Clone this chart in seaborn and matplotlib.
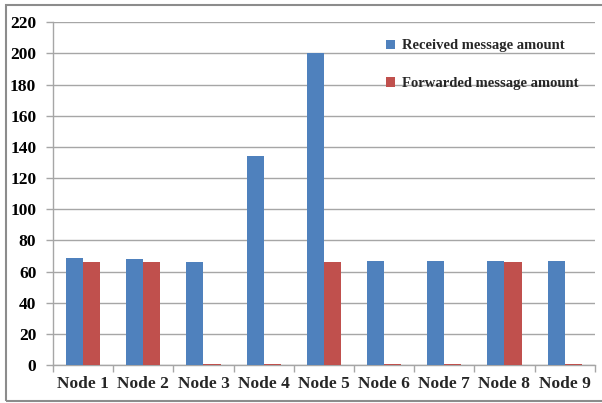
import matplotlib
matplotlib.use("Agg")
import matplotlib.pyplot as plt
from matplotlib.patches import Rectangle
import seaborn as sns
import pandas as pd

nodes = ["Node 1", "Node 2", "Node 3", "Node 4", "Node 5",
         "Node 6", "Node 7", "Node 8", "Node 9"]
received = [69, 68, 66, 134, 200, 67, 67, 67, 67]
forwarded = [66, 66, 1, 1, 66, 1, 1, 66, 1]
series_names = ["Received message amount", "Forwarded message amount"]
yticks = list(range(0, 221, 20))

df = pd.DataFrame({
    "node": nodes * 2,
    "amount": received + forwarded,
    "series": [series_names[0]] * len(nodes) + [series_names[1]] * len(nodes),
})

sns.set_theme(style="white")
plt.rcParams["font.family"] = ["Liberation Serif", "DejaVu Serif"]
plt.rcParams["font.weight"] = "bold"

fig = plt.figure(figsize=(6.02, 4.03), dpi=100)
ax = fig.add_axes([0.088, 0.094, 0.9, 0.851])

sns.barplot(data=df, x="node", y="amount", hue="series", order=nodes,
            hue_order=series_names, palette=["#4F81BD", "#C0504D"],
            width=0.57, saturation=1, linewidth=0, ax=ax, zorder=3)

ax.set_ylim(0, 220)
ax.set_xlim(-0.5, len(nodes) - 0.5)
ax.set_yticks(yticks)
ax.set_yticklabels([str(v) for v in yticks], fontsize=12.5, fontweight="bold")
ax.set_xticklabels(nodes, fontsize=12.5, fontweight="bold")
ax.set_xlabel("")
ax.set_ylabel("")

# horizontal gridlines
ax.grid(axis="y", color="#a6a6a6", linewidth=1, zorder=0)
ax.set_axisbelow(True)

for side in ["top", "right"]:
    ax.spines[side].set_visible(False)
for side in ["left", "bottom"]:
    ax.spines[side].set_color("#a6a6a6")
    ax.spines[side].set_linewidth(1)

# tick marks: y on the left, x at the category boundaries
ax.tick_params(axis="y", which="major", left=True, length=5, width=1,
               color="#a6a6a6", pad=7, labelcolor="black")
ax.tick_params(axis="x", which="major", bottom=False, pad=2)
ax.set_xticks([i + 0.5 for i in range(-1, len(nodes))], minor=True)
ax.tick_params(axis="x", which="minor", bottom=True, length=5, width=1,
               color="#a6a6a6")

leg = ax.legend(loc="upper left", bbox_to_anchor=(0.62, 0.935),
                bbox_transform=fig.transFigure, frameon=False,
                handlelength=0.6, handleheight=0.6, handletextpad=0.5,
                labelspacing=1.7, prop={"family": "Liberation Serif",
                                        "weight": "bold", "size": 10.5})

# outer chart frame
fig.patches.append(Rectangle((6 / 602, 2 / 403), 1.2, 396 / 403,
                             transform=fig.transFigure, fill=False,
                             edgecolor="#8c8c8c", linewidth=1.5))

fig.savefig("out.png", dpi=100)
